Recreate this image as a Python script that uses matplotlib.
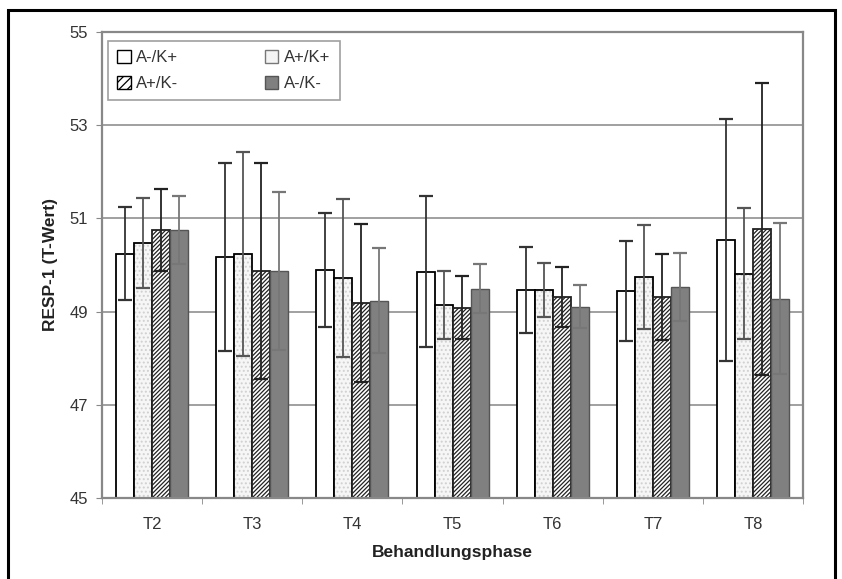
import numpy as np
import matplotlib
matplotlib.use("Agg")
import matplotlib.pyplot as plt
from matplotlib.patches import Rectangle, Patch

plt.rcParams['font.family'] = ['Liberation Sans', 'DejaVu Sans']
plt.rcParams['hatch.linewidth'] = 0.9

phases = ["T2", "T3", "T4", "T5", "T6", "T7", "T8"]
groups = ["A-/K+", "A+/K+", "A+/K-", "A-/K-"]

# means per group (one value per phase)
m_ak_plus = [50.24, 50.17, 49.89, 49.85, 49.46, 49.44, 50.54]
m_aplus_kplus = [50.47, 50.24, 49.72, 49.14, 49.46, 49.74, 49.81]
m_aplus_kminus = [50.75, 49.87, 49.18, 49.08, 49.31, 49.31, 50.77]
m_ak_minus = [50.75, 49.87, 49.23, 49.49, 49.10, 49.53, 49.27]

# standard deviations
sd_ak_plus = [1.00, 2.02, 1.22, 1.62, 0.92, 1.07, 2.60]
sd_aplus_kplus = [0.96, 2.19, 1.70, 0.72, 0.58, 1.12, 1.40]
sd_aplus_kminus = [0.88, 2.32, 1.70, 0.68, 0.65, 0.93, 3.14]
sd_ak_minus = [0.73, 1.70, 1.13, 0.52, 0.46, 0.73, 1.62]

means = [m_ak_plus, m_aplus_kplus, m_aplus_kminus, m_ak_minus]
sds = [sd_ak_plus, sd_aplus_kplus, sd_aplus_kminus, sd_ak_minus]
err_colors = ["#333333", "#555555", "#222222", "#777777"]

fig = plt.figure(figsize=(8.42, 5.79), dpi=100)
ax = fig.add_axes([0.121, 0.140, 0.833, 0.805])

x = np.arange(len(phases))
w = 0.18
base = 45

for i in range(4):
    pos = x + (i - 1.5) * w
    h = np.array(means[i]) - base
    if i == 0:
        ax.bar(pos, h, w, bottom=base, color="white", edgecolor="black", linewidth=1.3, zorder=2)
    elif i == 1:
        ax.bar(pos, h, w, bottom=base, color="#f6f6f6", edgecolor="#d0d0d0", hatch="....",
               linewidth=0, zorder=2)
        ax.bar(pos, h, w, bottom=base, fill=False, edgecolor="black", linewidth=1.3, zorder=2)
    elif i == 2:
        ax.bar(pos, h, w, bottom=base, color="white", edgecolor="#222222", hatch="////////",
               linewidth=1.3, zorder=2)
    else:
        ax.bar(pos, h, w, bottom=base, color="#808080", edgecolor="#555555", linewidth=1.0, zorder=2)
    ax.errorbar(pos, means[i], yerr=sds[i], fmt="none", ecolor=err_colors[i],
                elinewidth=1.3, capsize=5, capthick=1.6, zorder=3)

ax.set_ylim(45, 55)
ax.set_xlim(-0.5, len(phases) - 0.5)
ax.set_yticks([45, 47, 49, 51, 53, 55])
ax.set_xticks(x)
ax.set_xticklabels(phases)
ax.set_xticks(np.arange(len(phases) + 1) - 0.5, minor=True)
ax.tick_params(axis="x", which="major", length=0, pad=14, labelsize=12, labelcolor="#333333")
ax.tick_params(axis="x", which="minor", length=4, color="#888888", direction="out")
ax.tick_params(axis="y", length=4, color="#888888", labelsize=12, labelcolor="#333333",
               direction="out", pad=6)
ax.grid(axis="y", color="#999999", linewidth=1.3, zorder=0)
ax.set_axisbelow(True)
for s in ax.spines.values():
    s.set_color("#888888")
    s.set_linewidth(1.6)

ax.set_ylabel("RESP-1 (T-Wert)", fontsize=12.5, fontweight="bold", labelpad=8, color="#222222")
ax.set_xlabel("Behandlungsphase", fontsize=12.5, fontweight="bold", labelpad=9, color="#222222")

handles = [
    Patch(facecolor="white", edgecolor="black", label=groups[0]),
    Patch(facecolor="#f4f4f4", edgecolor="#777777", label=groups[1]),
    Patch(facecolor="white", edgecolor="black", hatch="////", label=groups[2]),
    Patch(facecolor="#808080", edgecolor="#555555", label=groups[3]),
]
leg = ax.legend(handles=[handles[0], handles[2], handles[1], handles[3]], ncol=2,
                loc="upper left", bbox_to_anchor=(0.004, 0.988), fontsize=12,
                frameon=True, fancybox=False, edgecolor="#888888", handlelength=0.8,
                handleheight=0.8, columnspacing=5.2, borderpad=0.55, labelspacing=0.65,
                handletextpad=0.35, borderaxespad=0.2)
leg.get_frame().set_linewidth(1.2)
for t in leg.get_texts():
    t.set_color("#333333")

# outer frame around the figure
fig.patches.append(Rectangle((8 / 842, -0.1), 827 / 842, 1.1 - 10 / 579, transform=fig.transFigure,
                             fill=False, edgecolor="black", linewidth=2.2))

fig.savefig("out.png", dpi=100)
